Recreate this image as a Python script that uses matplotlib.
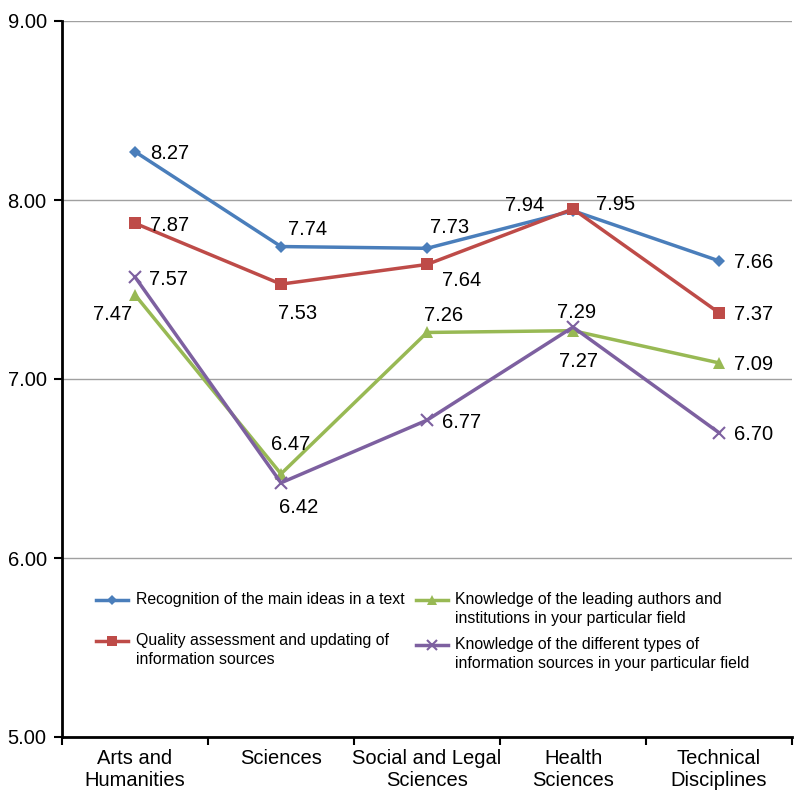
import matplotlib
matplotlib.use("Agg")
import matplotlib.pyplot as plt
import numpy as np

plt.rcParams['font.family'] = ['Liberation Sans', 'DejaVu Sans']

categories = ["Arts and\nHumanities", "Sciences", "Social and Legal\nSciences", "Health\nSciences", "Technical\nDisciplines"]
series_names = [
    "Recognition of the main ideas in a text",
    "Quality assessment and updating of\ninformation sources",
    "Knowledge of the leading authors and\ninstitutions in your particular field",
    "Knowledge of the different types of\ninformation sources in your particular field",
]
recognition = [8.27, 7.74, 7.73, 7.94, 7.66]
quality = [7.87, 7.53, 7.64, 7.95, 7.37]
authors = [7.47, 6.47, 7.26, 7.27, 7.09]
types_ = [7.57, 6.42, 6.77, 7.29, 6.70]

colors = ["#4a7ebb", "#be4b48", "#98b954", "#7d60a0"]
markers = ["D", "s", "^", "x"]
msizes = [6, 9, 9, 9]

# label centre offsets (pixels) from each point
offsets = [
    [(35, 0), (27, 19), (23, 23), (-48, 7), (35, 0)],
    [(35, 0), (17, -27), (35, -14), (43, 6), (35, 0)],
    [(-22, -18), (10, 31), (17, 19), (6, -29), (35, 0)],
    [(34, -1), (18, -23), (35, 0), (4, 17), (35, 0)],
]

W, H = 794, 791
fig = plt.figure(figsize=(W / 100, H / 100), dpi=100)
ax_l, ax_r, ax_t, ax_b = 62, 792, 21, 737
ax = fig.add_axes([ax_l / W, 1 - ax_b / H, (ax_r - ax_l) / W, (ax_b - ax_t) / H])

x = np.arange(len(categories))
all_series = [recognition, quality, authors, types_]
for vals, name, c, m, ms, offs in zip(all_series, series_names, colors, markers, msizes, offsets):
    kw = dict(markeredgewidth=1.5) if m == 'x' else dict(markeredgewidth=0)
    ax.plot(x, vals, color=c, lw=2.5, marker=m, markersize=ms, label=name, zorder=3, **kw)
    for xi, v, (dx, dy) in zip(x, vals, offs):
        ax.annotate(f"{v:.2f}", (xi, v), xytext=(dx, dy), textcoords='offset pixels',
                    ha='center', va='center_baseline', fontsize=14.5, color='black', zorder=4)

ax.set_xlim(-0.5, 4.5)
ax.set_ylim(5, 9)
ax.set_yticks([5, 6, 7, 8, 9])
ax.set_yticklabels([f"{v:.2f}" for v in [5, 6, 7, 8, 9]], fontsize=14.5)
ax.yaxis.grid(True, color='#a0a0a0', lw=1)
ax.set_axisbelow(True)
ax.set_xticks(x)
ax.set_xticklabels(categories, fontsize=14.5, linespacing=1.18)
ax.set_xticks(np.arange(-0.5, 5, 1), minor=True)
ax.tick_params(axis='x', which='major', length=0, pad=9)
ax.tick_params(axis='x', which='minor', length=6, width=1.5, direction='out')
ax.tick_params(axis='y', length=6, width=1.5, direction='out', pad=5)
for s in ['top', 'right']:
    ax.spines[s].set_visible(False)
for s in ['left', 'bottom']:
    ax.spines[s].set_linewidth(2)

# legend laid out by hand (handles aligned with first text line)
def axx(px):
    return (px - ax_l) / (ax_r - ax_l)

def axy(py):
    return (ax_b - py) / (ax_b - ax_t)

leg_pos = [(96, 128, 136, 600), (96, 128, 136, 641), (416, 448, 455, 600), (416, 448, 455, 645)]
for (h0, h1, tx, py), name, c, m, ms in zip(leg_pos, series_names, colors, markers, msizes):
    kw = dict(markeredgewidth=1.5) if m == 'x' else dict(markeredgewidth=0)
    ax.plot([axx(h0), axx(h1)], [axy(py), axy(py)], transform=ax.transAxes, color=c, lw=2.5,
            clip_on=False, zorder=3)
    ax.plot([axx((h0 + h1) / 2)], [axy(py)], transform=ax.transAxes, color=c, marker=m,
            markersize=ms * 0.85, clip_on=False, zorder=3, **kw)
    ax.text(axx(tx), axy(py - 8), name, transform=ax.transAxes, ha='left', va='top',
            fontsize=11.45, linespacing=1.34, color='black')

fig.savefig("out.png", dpi=100)
